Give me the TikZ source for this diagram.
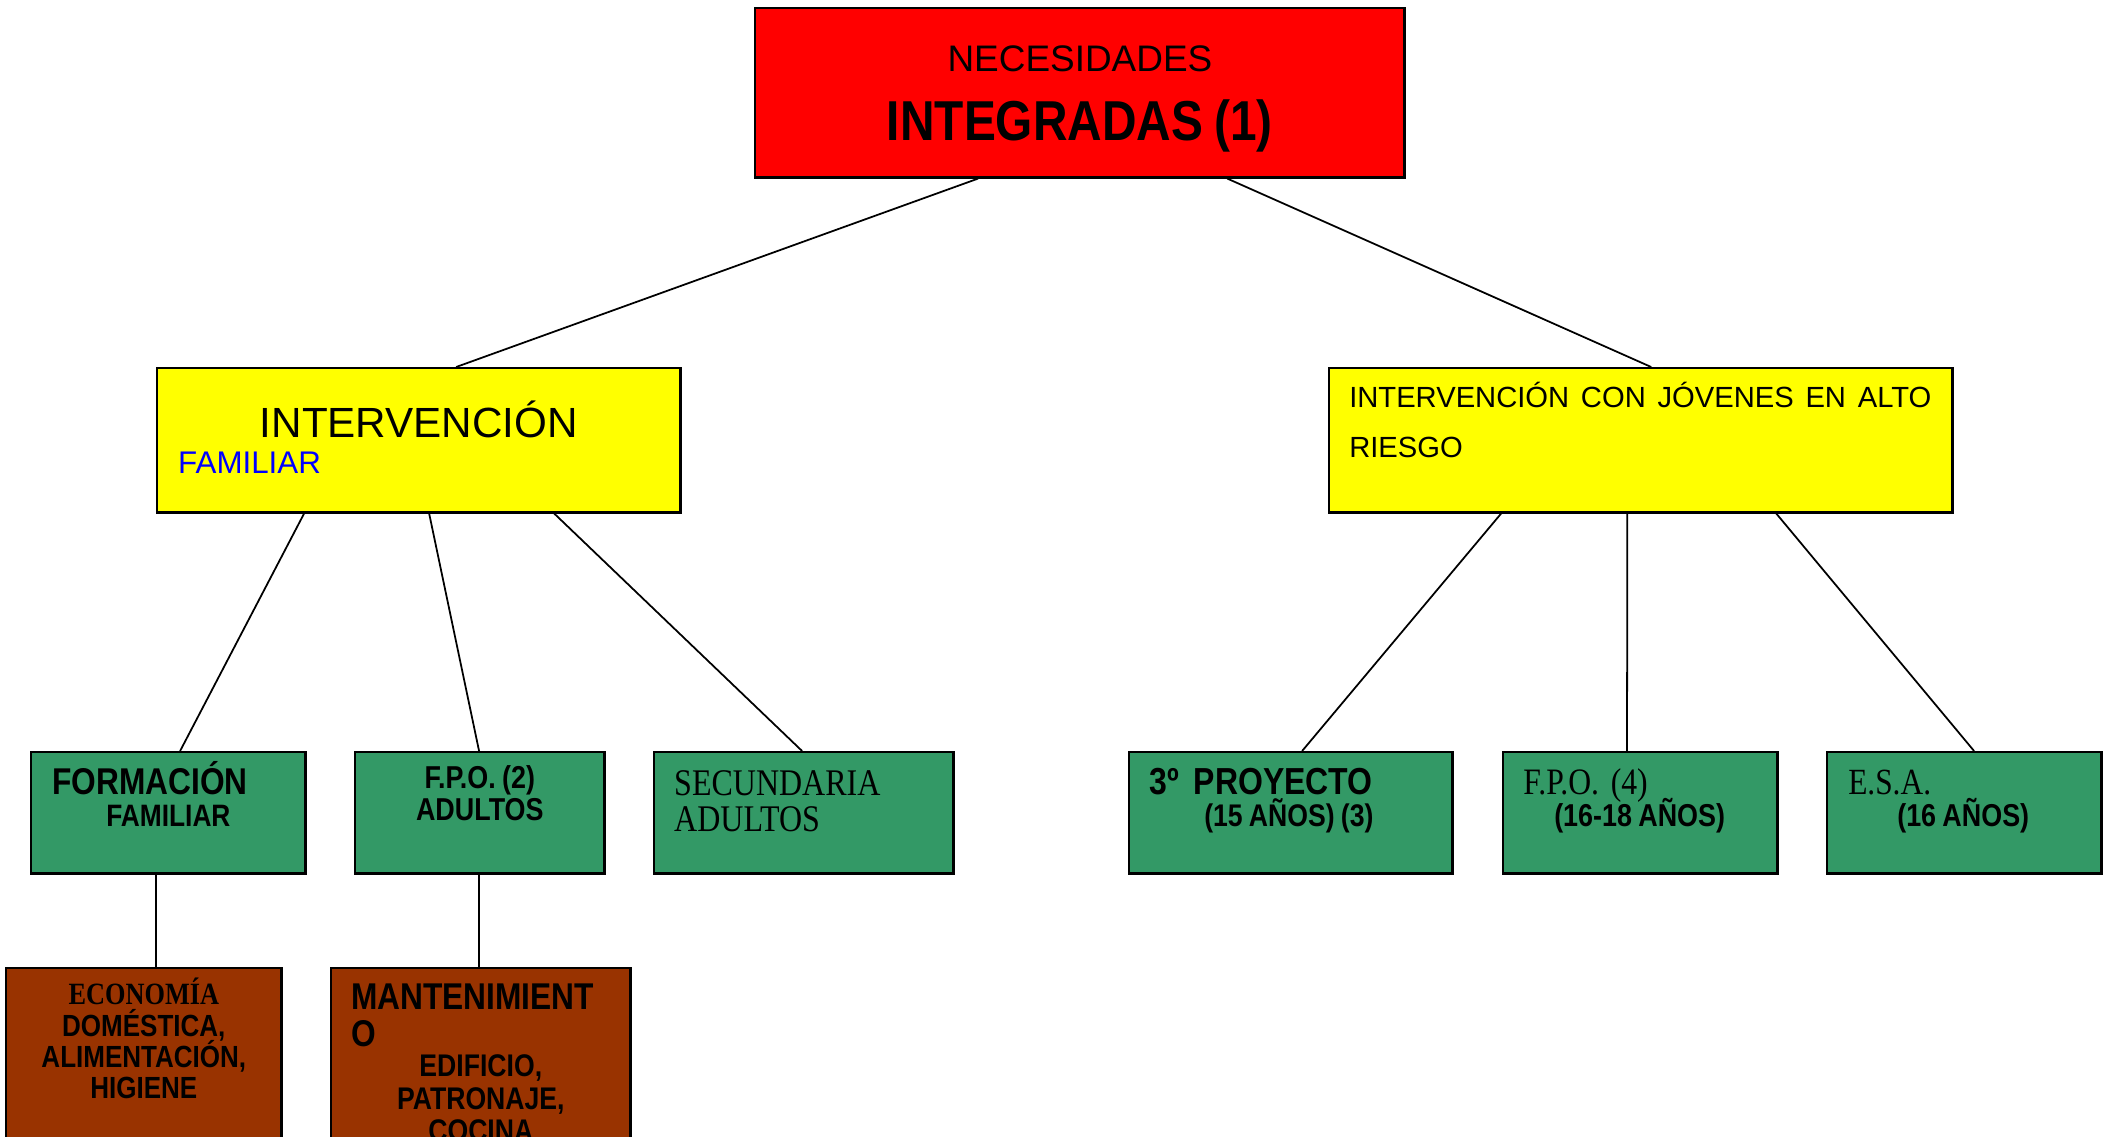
\documentclass[tikz,border=0pt]{standalone}
\usepackage{fontspec}
\setmainfont{Liberation Sans}
\newfontfamily\narrowsans[FakeStretch=0.85]{Liberation Sans}
\newfontfamily\narrowserif[FakeStretch=0.85]{Liberation Serif}
\newcommand{\nsb}{\narrowsans\bfseries\spaceskip=0.2em\relax}
\definecolor{necred}{RGB}{255,0,0}
\definecolor{intyellow}{RGB}{255,255,0}
\definecolor{progreen}{RGB}{51,153,102}
\definecolor{taskbrown}{RGB}{153,51,0}
\definecolor{famblue}{RGB}{0,0,255}
% one line of a box: size, baseline gap, indent, text
\newcommand{\lline}[4]{{\fontsize{#1}{#2}\selectfont\hspace*{#3}#4\par}}
\newcommand{\cenline}[3]{{\fontsize{#1}{#2}\selectfont\makebox[\linewidth][c]{#3}\par}}
\newcommand{\tightlines}{\lineskiplimit=-\maxdimen\lineskip=0pt}
\tikzset{
    box/.style={
        draw,
        line width=0.7pt,
        inner sep=0pt,
        anchor=north west,
        font=\tightlines},
    link/.style={
        draw,
        line width=0.5pt}}

\begin{document}
\begin{tikzpicture}[x=0.01cm,y=-0.01cm]
        \useasboundingbox (0,0) rectangle (2103,1136);
        \clip (0,0) rectangle (2103,1136);

        % top
        \node[box, fill=necred, text width=6.49cm, text height=0.63cm, text depth=1.06cm] (necesidades) at (754,7) {%
            \cenline{10.5pt}{10pt}{NECESIDADES}%
            \cenline{16pt}{19.6pt}{\nsb INTEGRADAS (1)}};

        % second level
        \node[box, fill=intyellow, text width=5.23cm, text height=0.69cm, text depth=0.75cm] (familiar) at (156,367) {%
            \cenline{12pt}{10pt}{INTERVENCIÓN}%
            \lline{8.9pt}{10.24pt}{0.21cm}{\color{famblue}FAMILIAR}};
        \node[box, fill=intyellow, text width=6.23cm, text height=0.39cm, text depth=1.05cm] (jovenes) at (1328,367) {%
            \lline{8.3pt}{14.2pt}{0.20cm}{INTERVENCIÓN CON JÓVENES EN ALTO}%
            \lline{8.3pt}{14.2pt}{0.20cm}{RIESGO}};

        % programmes
        \node[box, fill=progreen, text width=2.74cm, text height=0.42cm, text depth=0.79cm] (formacion) at (30,751) {%
            \lline{10.6pt}{9pt}{0.21cm}{\nsb FORMACIÓN}%
            \lline{8.8pt}{9.1pt}{0.75cm}{\nsb FAMILIAR}};
        \node[box, fill=progreen, text width=2.49cm, text height=0.36cm, text depth=0.85cm] (fpoadultos) at (354,751) {%
            \cenline{9pt}{9pt}{\nsb F.P.O. (2)}%
            \cenline{9pt}{9.1pt}{\nsb ADULTOS}};
        \node[box, fill=progreen, text width=2.99cm, text height=0.43cm, text depth=0.78cm] (secundaria) at (653,751) {%
            \lline{10.7pt}{9pt}{0.20cm}{\narrowserif SECUNDARIA}%
            \lline{10.7pt}{10.24pt}{0.20cm}{\narrowserif ADULTOS}};
        \node[box, fill=progreen, text width=3.23cm, text height=0.42cm, text depth=0.79cm] (proyecto) at (1128,751) {%
            \lline{10.7pt}{9pt}{0.20cm}{\nsb 3º\ \ PROYECTO}%
            \lline{8.9pt}{9.1pt}{0.75cm}{\nsb (15 AÑOS) (3)}};
        \node[box, fill=progreen, text width=2.74cm, text height=0.42cm, text depth=0.79cm] (fpojovenes) at (1502,751) {%
            \lline{10.6pt}{9pt}{0.20cm}{\narrowserif F.P.O. (4)}%
            \lline{9pt}{9.1pt}{0.51cm}{\nsb (16-18 AÑOS)}};
        \node[box, fill=progreen, text width=2.74cm, text height=0.42cm, text depth=0.79cm] (esa) at (1826,751) {%
            \lline{10.5pt}{9pt}{0.21cm}{\narrowserif E.S.A.}%
            \lline{9pt}{9.1pt}{0.70cm}{\nsb (16 AÑOS)}};

        % workshops
        \node[box, fill=taskbrown, text width=2.75cm, text height=0.36cm, text depth=1.80cm] (economia) at (5,967) {%
            \cenline{8.8pt}{9pt}{\narrowserif\bfseries ECONOMÍA}%
            \cenline{8.7pt}{9.1pt}{\nsb DOMÉSTICA,}%
            \cenline{8.7pt}{8.8pt}{\nsb ALIMENTACIÓN,}%
            \cenline{8.7pt}{8.8pt}{\nsb HIGIENE}};
        \node[box, fill=taskbrown, text width=2.99cm, text height=0.41cm, text depth=1.80cm] (mantenimiento) at (330,967) {%
            \lline{10.6pt}{9pt}{0.20cm}{\nsb MANTENIMIENT}%
            \lline{10.6pt}{10.5pt}{0.20cm}{\nsb O}%
            \cenline{8.9pt}{8.5pt}{\nsb EDIFICIO,}%
            \cenline{8.9pt}{9.4pt}{\nsb PATRONAJE,}%
            \cenline{8.9pt}{9.2pt}{\nsb COCINA}};

        \draw[link] ([xshift=2.24cm]necesidades.south west) -- ([xshift=3.00cm]familiar.north west);
        \draw[link] ([xshift=4.73cm]necesidades.south west) -- ([xshift=3.23cm]jovenes.north west);

        \draw[link] ([xshift=1.48cm]familiar.south west) -- ([xshift=1.50cm]formacion.north west);
        \draw[link] ([xshift=2.73cm]familiar.south west) -- ([xshift=1.25cm]fpoadultos.north west);
        \draw[link] ([xshift=3.98cm]familiar.south west) -- ([xshift=1.49cm]secundaria.north west);

        \draw[link] ([xshift=1.73cm]jovenes.south west) -- ([xshift=1.74cm]proyecto.north west);
        \draw[link] ([xshift=2.99cm]jovenes.south west) -- ([xshift=1.25cm]fpojovenes.north west);
        \draw[link] ([xshift=4.48cm]jovenes.south west) -- ([xshift=1.48cm]esa.north west);

        \draw[link] ([xshift=1.26cm]formacion.south west) -- ([xshift=1.51cm]economia.north west);
        \draw[link] ([xshift=1.25cm]fpoadultos.south west) -- ([xshift=1.49cm]mantenimiento.north west);
\end{tikzpicture}
\end{document}
